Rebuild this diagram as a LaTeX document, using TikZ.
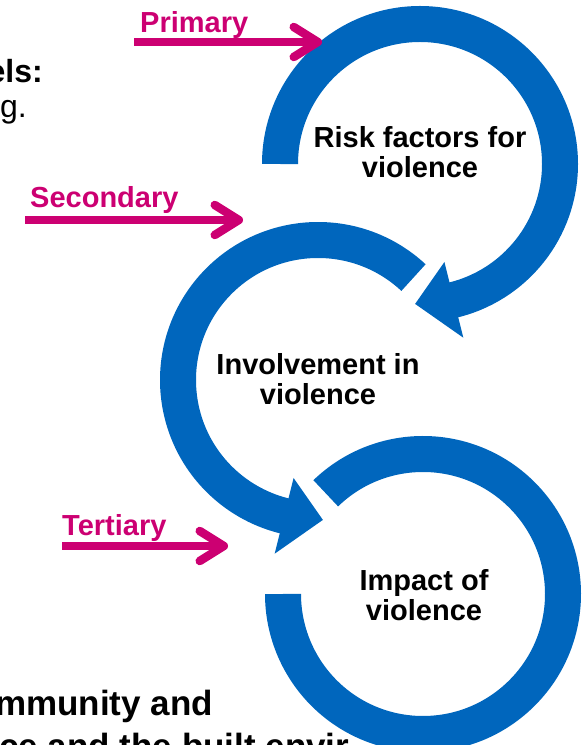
\documentclass[tikz,border=0pt]{standalone}
\usepackage{fontspec}
\setmainfont{Liberation Sans}
\usetikzlibrary{arrows.meta}
\definecolor{ringblue}{RGB}{0,102,189}
\definecolor{levelpink}{RGB}{204,0,114}

\begin{document}
\begin{tikzpicture}[
    x = 1pt, y = 1pt,
    ring/.style={draw=ringblue, line width=36pt},
    ringhead/.style={fill=ringblue},
    prevarrow/.style={draw=levelpink, line width=8.5pt, -{Straight Barb[length=24pt,width=30pt,round]}},
    levellabel/.style={text=levelpink, font=\fontsize{29}{30}\selectfont\bfseries, inner sep=0pt, anchor=base west},
    stage/.style={font=\fontsize{29}{30}\selectfont\bfseries, align=center, inner sep=0pt},
    slidetext/.style={font=\fontsize{35}{42}\selectfont\bfseries, inner sep=0pt}
]
    \useasboundingbox (0,0) rectangle (583,745);
    \clip (0,0) rectangle (583,745);

    \node[slidetext, font=\fontsize{32}{38}\selectfont\bfseries, anchor=base east] (levels) at (43,662) {els:};
    \node[slidetext, font=\fontsize{32}{38}\selectfont, anchor=base east] (eg) at (27,627) {g.};
    \node[slidetext, anchor=base east] (community) at (213,29) {mmunity and};
    \node[slidetext, anchor=base west] (space) at (-1,-13) {ce and the built envir};

    \coordinate (risk-c) at (420,581);
    \coordinate (involve-c) at (318,365);
    \coordinate (impact-c) at (423,151);

    \draw[ring] ([shift={(180:140pt)}]risk-c) arc[start angle=180, end angle=-77, radius=140pt];
    \fill[ringhead] ([shift={(-76:101pt)}]risk-c) -- ([shift={(-76:179pt)}]risk-c) -- ([shift={(-92:140pt)}]risk-c) -- cycle;
    \draw[ring] ([shift={(47:140pt)}]involve-c) arc[start angle=47, end angle=257, radius=140pt];
    \fill[ringhead] ([shift={(256:101pt)}]involve-c) -- ([shift={(256:179pt)}]involve-c) -- ([shift={(272:140pt)}]involve-c) -- cycle;
    \draw[ring] ([shift={(134:140pt)}]impact-c) arc[start angle=134, end angle=-180, radius=140pt];

    \node[stage] (risk) at (420,593) {Risk factors for\\violence};
    \node[stage] (involve) at (318,366) {Involvement in\\violence};
    \node[stage] (impact) at (424,150) {Impact of\\violence};

    \node[levellabel] (primary) at (140,712) {Primary};
    \node[levellabel] (secondary) at (30,537) {Secondary};
    \node[levellabel] (tertiary) at (62,209) {Tertiary};
    \coordinate (primary-from) at (134,703);
    \coordinate (primary-to) at (322,703);
    \coordinate (secondary-from) at (25,525);
    \coordinate (secondary-to) at (243,525);
    \coordinate (tertiary-from) at (62,199);
    \coordinate (tertiary-to) at (228,199);
    \draw[prevarrow] (primary-from) -- (primary-to);
    \draw[prevarrow] (secondary-from) -- (secondary-to);
    \draw[prevarrow] (tertiary-from) -- (tertiary-to);
\end{tikzpicture}
\end{document}
